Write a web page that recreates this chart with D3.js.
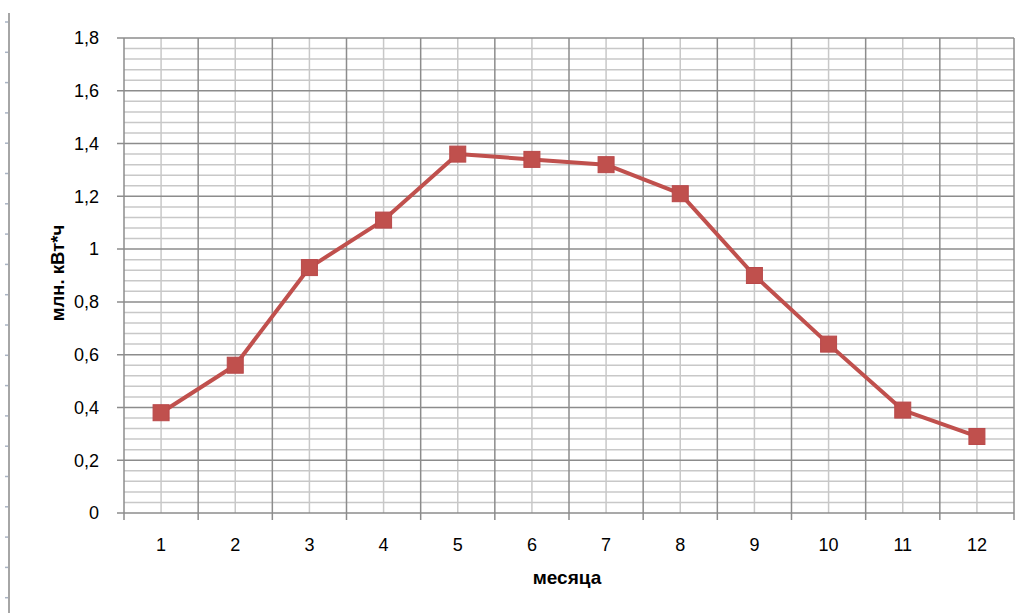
<!DOCTYPE html>
<html><head><meta charset="utf-8">
<script src="https://cdn.jsdelivr.net/npm/d3@7"></script>
<style>body{margin:0;background:#fff}svg{display:block}</style>
</head><body>
<script>
const months = ["1","2","3","4","5","6","7","8","9","10","11","12"];
const values = [0.38, 0.56, 0.93, 1.11, 1.36, 1.34, 1.32, 1.21, 0.90, 0.64, 0.39, 0.29];
const yTicks = [0, 0.2, 0.4, 0.6, 0.8, 1, 1.2, 1.4, 1.6, 1.8];
const yTickLabels = ["0","0,2","0,4","0,6","0,8","1","1,2","1,4","1,6","1,8"];
const xTitle = "месяца";
const yTitle = "млн. кВт*ч";

const W = 1027, H = 613;
const m = {left:124, right:1014, top:38, bottom:513};
const svg = d3.select("body").append("svg").attr("width", W).attr("height", H);
const font = "'Liberation Sans', Arial, sans-serif";

// left decorative ruler
svg.append("line").attr("x1",9).attr("x2",9).attr("y1",13).attr("y2",H)
  .attr("stroke","#a6a6a6").attr("stroke-width",2);
const rulerScale = d3.scaleLinear().domain([0,19]).range([22, 22+19*30.3]);
svg.append("g").selectAll("line").data(d3.range(20)).join("line")
  .attr("x1",5).attr("x2",8).attr("y1",d=>rulerScale(d)).attr("y2",d=>rulerScale(d))
  .attr("stroke","#aab4c4").attr("stroke-width",1.5);

const x = d3.scaleBand().domain(months).range([m.left, m.right]);
const y = d3.scaleLinear().domain([0,1.8]).range([m.bottom, m.top]);

const g = svg.append("g");
// minor horizontal grid
const minor = d3.range(0, 1.8001, 0.04).filter((d,i)=> i%5!==0);
g.selectAll(".hmin").data(minor).join("line")
  .attr("x1",m.left).attr("x2",m.right).attr("y1",d=>y(d)).attr("y2",d=>y(d))
  .attr("stroke","#c8c8c8").attr("stroke-width",1.5);
// minor vertical grid at category centers
g.selectAll(".vmin").data(months).join("line")
  .attr("x1",d=>x(d)+x.bandwidth()/2).attr("x2",d=>x(d)+x.bandwidth()/2)
  .attr("y1",m.top).attr("y2",m.bottom)
  .attr("stroke","#c8c8c8").attr("stroke-width",1.5);
// major horizontal grid
g.selectAll(".hmaj").data(yTicks).join("line")
  .attr("x1",m.left-7).attr("x2",m.right).attr("y1",d=>y(d)).attr("y2",d=>y(d))
  .attr("stroke","#8c8c8c").attr("stroke-width",1.5);
// major vertical grid at boundaries
const bounds = months.map(d=>x(d)).concat([m.right]);
g.selectAll(".vmaj").data(bounds).join("line")
  .attr("x1",d=>d).attr("x2",d=>d).attr("y1",m.top).attr("y2",m.bottom+7)
  .attr("stroke","#8c8c8c").attr("stroke-width",1.5);

// tick labels
svg.append("g").selectAll("text").data(yTicks).join("text")
  .attr("x",99).attr("y",d=>y(d)).attr("dy","0.35em").attr("text-anchor","end")
  .attr("font-family",font).attr("font-size",18).attr("fill","#000")
  .text((d,i)=>yTickLabels[i]);
svg.append("g").selectAll("text").data(months).join("text")
  .attr("x",d=>x(d)+x.bandwidth()/2).attr("y",551).attr("text-anchor","middle")
  .attr("font-family",font).attr("font-size",18).attr("fill","#000")
  .text(d=>d);

// titles
svg.append("text").attr("x",567).attr("y",584).attr("text-anchor","middle")
  .attr("font-family",font).attr("font-size",19).attr("font-weight","bold").text(xTitle);
svg.append("text").attr("transform","translate(64,273) rotate(-90)").attr("text-anchor","middle")
  .attr("font-family",font).attr("font-size",18.5).attr("font-weight","bold").text(yTitle);

// series
const cx = d=>x(d)+x.bandwidth()/2;
svg.append("path").datum(values)
  .attr("d", d3.line().x((d,i)=>cx(months[i])).y(d=>y(d)))
  .attr("fill","none").attr("stroke","#C0504D").attr("stroke-width",4).attr("stroke-linejoin","round");
svg.append("g").selectAll("rect").data(values).join("rect")
  .attr("x",(d,i)=>cx(months[i])-8).attr("y",d=>y(d)-8).attr("width",16).attr("height",16)
  .attr("fill","#C0504D").attr("stroke","#B9484A").attr("stroke-width",1);
</script>
</body></html>
